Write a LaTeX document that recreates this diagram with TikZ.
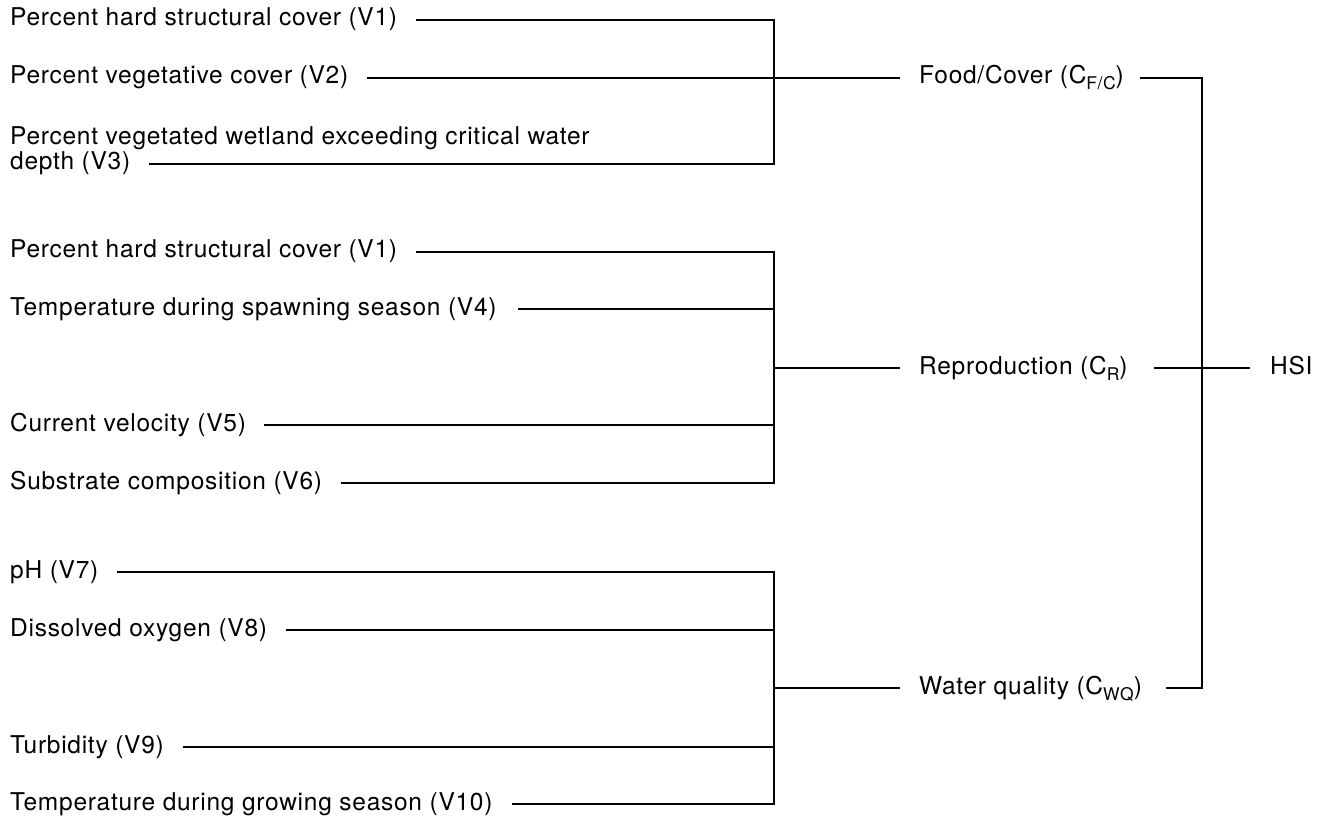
\documentclass[tikz,border=0pt]{standalone}
\usepackage{fontspec}
\setmainfont[LetterSpace=3]{TeX Gyre Heros}
\usetikzlibrary{positioning}
\newcommand{\lowsub}[1]{\raisebox{-6pt}{\fontsize{17.5}{17.5}\selectfont #1}}
\tikzset{
    varlabel/.style={
        anchor=west, inner sep=0pt,
        text height=17pt, text depth=5pt,
        font=\fontsize{24.5}{25}\selectfont
    },
    complabel/.style={
        varlabel
    },
    link/.style={line width=1.6pt, black},
}

\begin{document}
\begin{tikzpicture}[x=1pt, y=-1pt]
    \useasboundingbox (0,0) rectangle (1330,818);
    \coordinate (lbar) at (774,0);
    \coordinate (rbar) at (1202,0);
    \coordinate (rcol) at (919,0);

    % food / cover
    \node[varlabel] (fv1) at (10,20) {Percent hard structural cover (V1)};
    \node[varlabel] (fv2) at (10,78) {Percent vegetative cover (V2)};
    \node[varlabel] (fv3a) at (10,139) {Percent vegetated wetland exceeding critical water};
    \node[varlabel] (fv3) at (10,164) {depth (V3)};
    \node[complabel] (fc) at (fv2.west -| rcol) {Food/Cover (C\lowsub{F/C})};

    % reproduction
    \node[varlabel] (rv1) at (10,252) {Percent hard structural cover (V1)};
    \node[varlabel] (rv4) at (10,309) {Temperature during spawning season (V4)};
    \node[varlabel] (rv5) at (10,425) {Current velocity (V5)};
    \node[varlabel] (rv6) at (10,483) {Substrate composition (V6)};
    \node[complabel] (cr) at (919,368) {Reproduction (C\lowsub{R})};
    \node[complabel] (hsi) at (1270,368) {HSI};

    % water quality
    \node[varlabel] (wv7) at (10,572) {pH (V7)};
    \node[varlabel] (wv8) at (10,630) {Dissolved oxygen (V8)};
    \node[varlabel] (wv9) at (10,747) {Turbidity (V9)};
    \node[varlabel] (wv10) at (10,804) {Temperature during growing season (V10)};
    \node[complabel] (wq) at (919,688) {Water quality (C\lowsub{WQ})};

    % first group
    \draw[link, shorten <=19pt, shorten >=19pt] (fv1.east) -- (fv1.east -| lbar) |- (fv3.east);
    \draw[link, shorten <=19pt, shorten >=19pt] (fv2.east) -- (fc.west);

    % second group
    \draw[link, shorten <=19pt, shorten >=19pt] (rv1.east) -- (rv1.east -| lbar) |- (rv6.east);
    \draw[link, shorten <=21pt] (rv4.east) -- (rv4.east -| lbar);
    \draw[link, shorten <=18pt] (rv5.east) -- (rv5.east -| lbar);
    \draw[link, shorten >=19pt] (cr.west -| lbar) -- (cr.west);

    % third group
    \draw[link, shorten <=19pt, shorten >=19pt] (wv7.east) -- (wv7.east -| lbar) |- (wv10.east);
    \draw[link, shorten <=19pt] (wv8.east) -- (wv8.east -| lbar);
    \draw[link, shorten <=19pt] (wv9.east) -- (wv9.east -| lbar);
    \draw[link, shorten >=19pt] (wq.west -| lbar) -- (wq.west);

    % habitat index
    \draw[link, shorten <=16pt, shorten >=24pt] (fc.east) -- (fc.east -| rbar) |- (wq.east);
    \draw[link, shorten <=26pt, shorten >=20pt] (cr.east) -- (hsi.west);
\end{tikzpicture}
\end{document}
